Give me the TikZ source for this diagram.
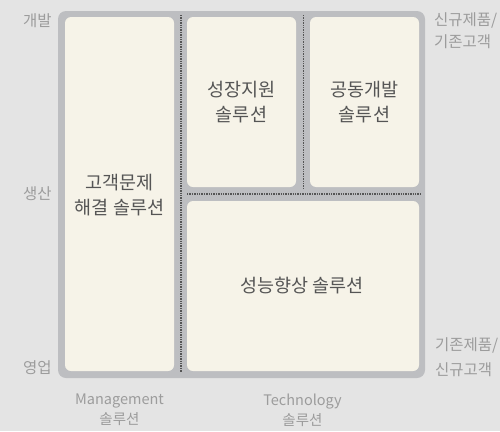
\documentclass[tikz,border=0pt]{standalone}
\usepackage{fontspec}
\setmainfont{Noto Sans CJK KR}
\definecolor{bgc}{HTML}{E4E4E4}
\definecolor{framec}{HTML}{BDBEC1}
\definecolor{panelc}{HTML}{F6F3E8}
\definecolor{txtc}{HTML}{555555}
\definecolor{axc}{HTML}{9C9C9C}
\definecolor{dotc}{HTML}{555555}
\begin{document}
\begin{tikzpicture}[x=1pt,y=-1pt,
  panel/.style={fill=panelc,draw=none,rounded corners=6pt,inner sep=0pt,
    text=txtc,align=center,font=\fontsize{18.5}{25}\selectfont},
  axlabel/.style={text=axc,font=\fontsize{15.5}{22}\selectfont,inner sep=0pt},
  dotline/.style={draw=dotc,line width=1.3pt,dash pattern=on 1.3pt off 1.1pt}]
\useasboundingbox[fill=bgc] (0,0) rectangle (500,431);
\node[fill=framec,rounded corners=8pt,minimum width=367pt,minimum height=367pt,inner sep=0pt] (frame) at (241.5,194.5) {};
\node[panel,minimum width=109pt,minimum height=354pt] (left) at (119.5,194) {};
\node[panel,minimum width=109pt,minimum height=170pt] (tm) at (241.5,102) {};
\node[panel,minimum width=109pt,minimum height=170pt] (tr) at (364.5,102) {};
\node[panel,minimum width=232pt,minimum height=170pt] (bot) at (303,286) {};
\node[panel,fill=none] (lefttxt) at (119.5,195) {고객문제\\해결 솔루션};
\node[panel,fill=none] (tmtxt) at (241.5,102) {성장지원\\솔루션};
\node[panel,fill=none] (trtxt) at (364.5,102) {공동개발\\솔루션};
\node[panel,fill=none] (bottxt) at (302,286) {성능향상 솔루션};
\coordinate (v1a) at (181,15); \coordinate (v1b) at (181,372);
\coordinate (v2a) at (303.5,15); \coordinate (v2b) at (303.5,188);
\coordinate (h1a) at (187,194); \coordinate (h1b) at (421,194);
\draw[dotline] (v1a) -- (v1b);
\draw[dotline] (v2a) -- (v2b);
\draw[dotline] (h1a) -- (h1b);
\node[axlabel] (dev) at (37.5,21) {개발};
\node[axlabel] (prod) at (37.5,194) {생산};
\node[axlabel] (sales) at (37.5,368) {영업};
\node[axlabel,anchor=west,align=left,font=\fontsize{15.5}{22}\selectfont] (tr1) at (434,31) {신규제품/\\기존고객};
\node[axlabel,anchor=west,align=left,font=\fontsize{15.5}{25}\selectfont] (br1) at (435,357.5) {기존제품/\\신규고객};
\node[axlabel,align=center,font=\fontsize{14.5}{20}\selectfont] (mg) at (119.5,410) {Management\\솔루션};
\node[axlabel,align=center,font=\fontsize{14.5}{20}\selectfont] (tc) at (302.5,410) {Technology\\솔루션};
\end{tikzpicture}
\end{document}
